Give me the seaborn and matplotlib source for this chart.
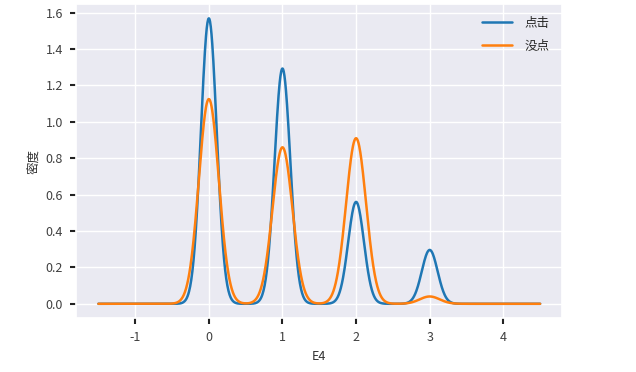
import numpy as np
import pandas as pd
import matplotlib
matplotlib.use("Agg")
import matplotlib.pyplot as plt
import seaborn as sns

# ---- data ----
values = [0, 1, 2, 3]                      # E4 categories
clicked_counts = [4220, 3478, 1506, 796]   # "点击"
unclicked_counts = [3833, 2930, 3100, 137] # "没点"
series_labels = ["点击", "没点"]
xlabel = "E4"
ylabel = "密度"

# KDE bandwidths (style parameters)
bandwidths = [0.1073, 0.1359]
colors = ["#1f77b4", "#ff7f0e"]

sns.set_theme(style="darkgrid")
plt.rcParams["font.family"] = ["Noto Sans CJK SC", "DejaVu Sans"]
plt.rcParams["axes.unicode_minus"] = False

fig = plt.figure(figsize=(6.36, 3.72), dpi=100)
ax = fig.add_axes([0.12, 0.145, 0.764, 0.844])

for counts, bw, col, lab in zip([clicked_counts, unclicked_counts], bandwidths, colors, series_labels):
    data = pd.Series(np.repeat(values, counts), dtype=float)
    factor = bw / data.std(ddof=1)
    sns.kdeplot(x=data, bw_method=factor, cut=30, clip=(-1.5, 4.5), gridsize=1200,
                color=col, label=lab, linewidth=1.8, ax=ax)

for ln in ax.lines:
    ln.sticky_edges.x.clear()
    ln.sticky_edges.y.clear()
ax.margins(x=0.05, y=0.05)
ax.relim()
ax.autoscale_view()

ax.set_xlabel(xlabel, fontsize=9, color=".2", labelpad=4)
ax.set_ylabel(ylabel, fontsize=9, color=".2")
ax.set_xticks([-1, 0, 1, 2, 3, 4])
ax.set_yticks(np.arange(0, 1.61, 0.2))
ax.set_yticklabels([f"{v:.1f}" for v in np.arange(0, 1.61, 0.2)])
ax.tick_params(axis="both", which="major", labelsize=9, labelcolor=".25", color="#222222",
               length=4.5, width=1.5, direction="out", pad=5, bottom=True, left=True)

leg = ax.legend(loc="upper right", frameon=False, fontsize=9, handlelength=2.4,
                labelspacing=0.8, handletextpad=1.0, borderaxespad=0.6)

fig.savefig("out.png", dpi=100)
